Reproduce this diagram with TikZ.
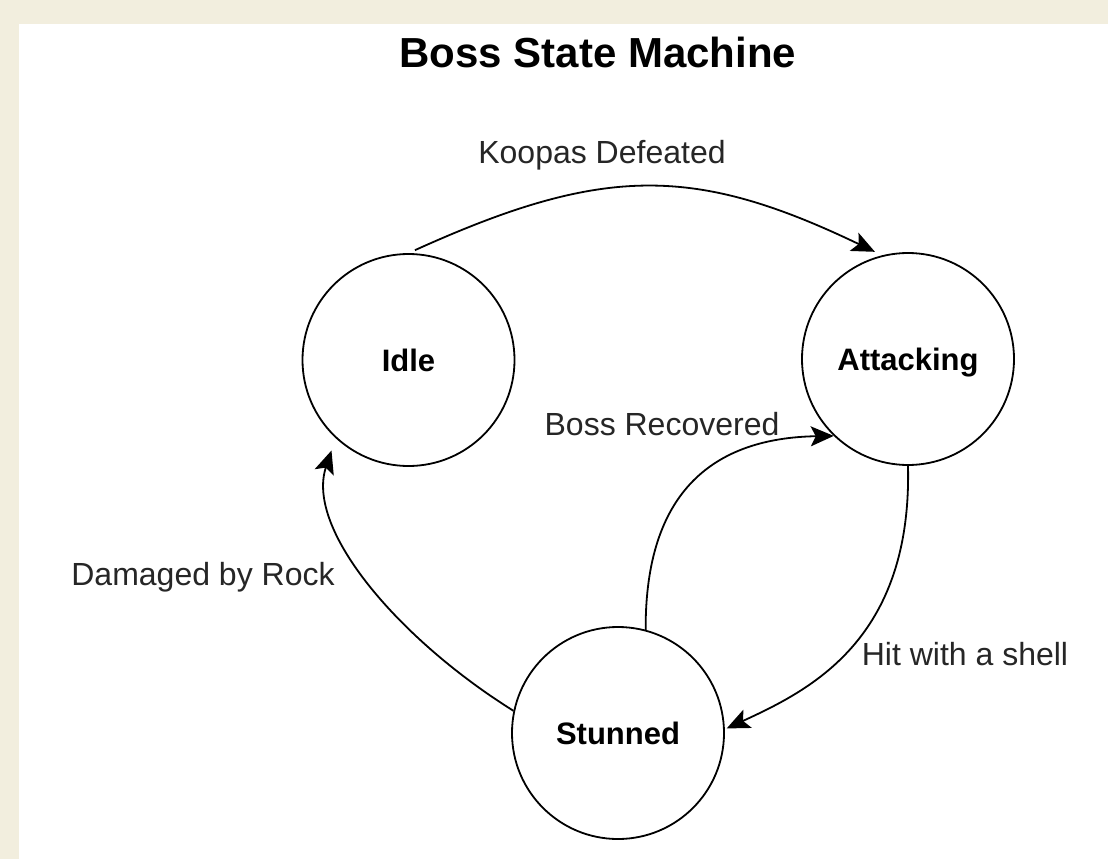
\documentclass[tikz,border=0pt]{standalone}
\usepackage{fontspec}
\setmainfont{Liberation Sans}
\usetikzlibrary{arrows.meta}
\definecolor{frame}{HTML}{F2EEDE}
\definecolor{labelc}{HTML}{262626}
\begin{document}
\begin{tikzpicture}[x=1pt,y=-1pt,
  state/.style={circle,draw=black,line width=1.8pt,minimum size=212pt,inner sep=0pt,
    font=\fontsize{31}{31}\selectfont\bfseries,text height=23pt,text depth=0pt},
  edgelbl/.style={anchor=base,text=labelc,font=\fontsize{32}{32}\selectfont,inner sep=0pt},
  arr/.style={line width=1.8pt,arrows={-Stealth[length=23pt,width=20pt,inset=5pt]}}]
\useasboundingbox (0,0) rectangle (1108,859);
\fill[frame] (0,0) rectangle (1108,859);
\fill[white] (19,24) rectangle (1108,859);
\node[anchor=base,font=\fontsize{42}{42}\selectfont\bfseries,inner sep=0pt] (title) at (598,67) {Boss State Machine};
\node[state] (idle) at (408.5,360) {Idle};
\node[state] (att) at (908,359) {Attacking};
\node[state] (stun) at (618,733) {Stunned};
\draw[arr,shorten <=7pt,shorten >=8pt] (idle.north) .. controls (603,165) and (694,165) .. (att.104);
\draw[arr] (stun.75) .. controls (645,490) and (715,438) .. (att.226);
\draw[arr,shorten >=2pt] (att.south) .. controls (912,640) and (810,690) .. (stun.2);
\draw[arr,shorten >=13pt] (stun.168) .. controls (400,640) and (305,530) .. (idle.227);
\node[edgelbl] (l1) at (602,163) {Koopas Defeated};
\node[edgelbl] (l2) at (662,435) {Boss Recovered};
\node[edgelbl] (l3) at (965,665) {Hit with a shell};
\node[edgelbl] (l4) at (203,585) {Damaged by Rock};
\end{tikzpicture}
\end{document}
